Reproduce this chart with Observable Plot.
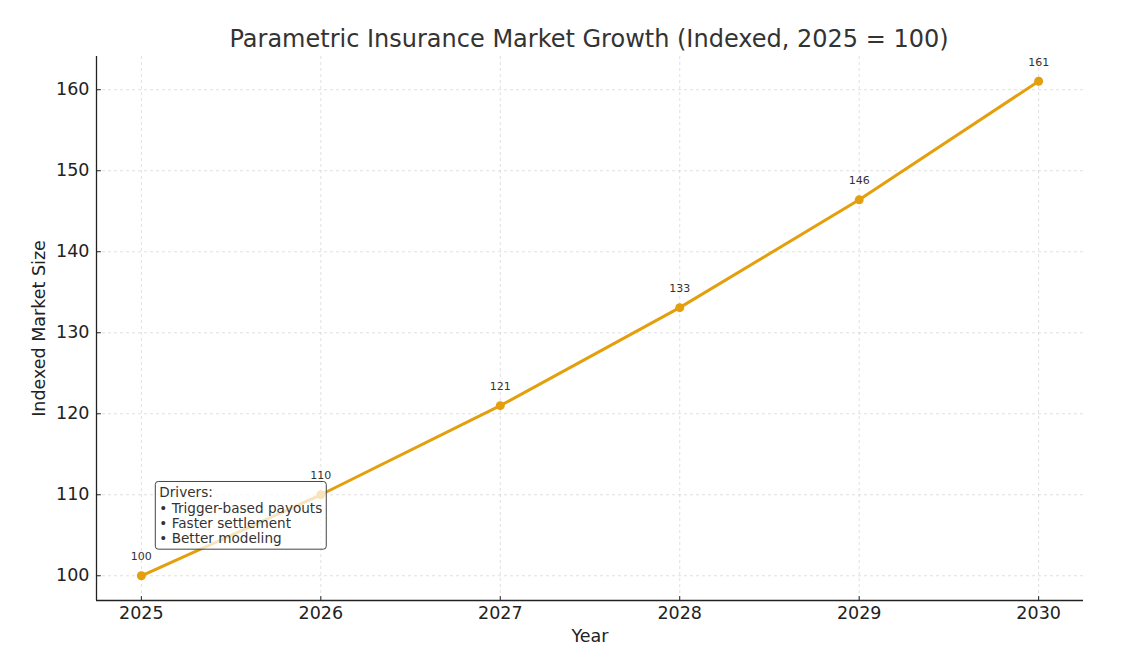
<!DOCTYPE html>
<html><head><meta charset="utf-8">
<script src="https://cdn.jsdelivr.net/npm/d3@7"></script>
<script src="https://cdn.jsdelivr.net/npm/@observablehq/plot@0.6"></script>
<style>
html,body{margin:0;padding:0;background:#fff;}
body{width:1132px;height:653px;overflow:hidden;font-family:"DejaVu Sans",sans-serif;}
#title{height:56px;box-sizing:border-box;padding-top:26px;line-height:26px;font-size:24px;color:#333;text-align:center;padding-left:46px;white-space:nowrap;}
#chart svg{display:block;}
</style>
</head><body>
<div id="title">Parametric Insurance Market Growth (Indexed, 2025 = 100)</div>
<div id="chart"></div>
<script>
const years = [2025, 2026, 2027, 2028, 2029, 2030];
const indexValues = [100, 110, 121, 133.1, 146.41, 161.05];
const pointLabels = ["100", "110", "121", "133", "146", "161"];
const yTicks = [100, 110, 120, 130, 140, 150, 160];
const annotationText = "Drivers:\n• Trigger-based payouts\n• Faster settlement\n• Better modeling";
const annotationAt = {x: 2025.1, y: 111};
const lineColor = "#E39F0C";

const data = years.map((y, i) => ({year: y, value: indexValues[i], label: pointLabels[i]}));

function padded(vals, frac) {
  const lo = d3.min(vals), hi = d3.max(vals), m = (hi - lo) * frac;
  return [lo - m, hi + m];
}
const xDomain = padded(years, 0.05);
const yDomain = padded(indexValues, 0.05);

const gridStyle = {stroke: "#b8b8b8", strokeOpacity: 0.55, strokeDasharray: "3,3", strokeWidth: 0.8};
const tickShape = {draw(context, l) { context.moveTo(0, 0); context.lineTo(0, -l); }};

const chart = Plot.plot({
  width: 1132,
  height: 597,
  marginTop: 0,
  marginLeft: 96,
  marginRight: 49,
  marginBottom: 53,
  style: {fontFamily: "DejaVu Sans, sans-serif", fontSize: "17.5px", color: "#222", background: "#fff"},
  x: {domain: xDomain},
  y: {domain: yDomain},
  marks: [
    Plot.gridY(yTicks, gridStyle),
    Plot.gridX(years, gridStyle),
    Plot.ruleX([xDomain[0]], {stroke: "#222", strokeWidth: 1.3}),
    Plot.ruleY([yDomain[0]], {stroke: "#222", strokeWidth: 1.3}),
    // inward ticks
    Plot.vector(yTicks, {y: d => d, frameAnchor: "left", rotate: 90, length: 4, anchor: "start", shape: tickShape, stroke: "#222", strokeWidth: 1}),
    Plot.vector(years, {x: d => d, frameAnchor: "bottom", rotate: 0, length: 4, anchor: "start", shape: tickShape, stroke: "#222", strokeWidth: 1}),
    Plot.axisX(years, {tickFormat: d => String(d), tickSize: 0, tickPadding: 6, fontSize: 17.5,
      label: "Year", labelAnchor: "center", labelArrow: false, labelOffset: 41}),
    Plot.axisY(yTicks, {tickSize: 0, tickPadding: 7, fontSize: 17.5,
      label: "Indexed Market Size", labelAnchor: "center", labelArrow: false, labelOffset: 64}),
    Plot.line(data, {x: "year", y: "value", stroke: lineColor, strokeWidth: 3}),
    Plot.dot(data, {x: "year", y: "value", r: 4.5, fill: lineColor, stroke: "none"}),
    Plot.text(data, {x: "year", y: "value", text: "label", dy: -19, fontSize: 11, fill: "#333"}),
    Plot.text([annotationText], {x: () => annotationAt.x, y: () => annotationAt.y, text: d => d,
      textAnchor: "start", lineAnchor: "top", fontSize: 13.6, lineHeight: 1.12, fill: "#333"})
  ]
});
document.getElementById("chart").appendChild(chart);

// draw annotation box behind the annotation text
const texts = Array.from(chart.querySelectorAll("text")).filter(t => t.textContent.includes("Drivers:"));
if (texts.length) {
  const t = texts[0];
  const g = t.parentNode;
  const bb = t.getBBox();
  const pad = 4;
  const rect = document.createElementNS("http://www.w3.org/2000/svg", "rect");
  rect.setAttribute("x", bb.x - pad);
  rect.setAttribute("y", bb.y - pad + 1);
  rect.setAttribute("width", bb.width + 2 * pad);
  rect.setAttribute("height", bb.height + 2 * pad - 2);
  rect.setAttribute("rx", 3);
  rect.setAttribute("fill", "#fff");
  rect.setAttribute("fill-opacity", 0.72);
  rect.setAttribute("stroke", "#444");
  rect.setAttribute("stroke-width", 1);
  const tr = t.getAttribute("transform");
  if (tr) rect.setAttribute("transform", tr);
  g.insertBefore(rect, t);
}
</script>
</body></html>
